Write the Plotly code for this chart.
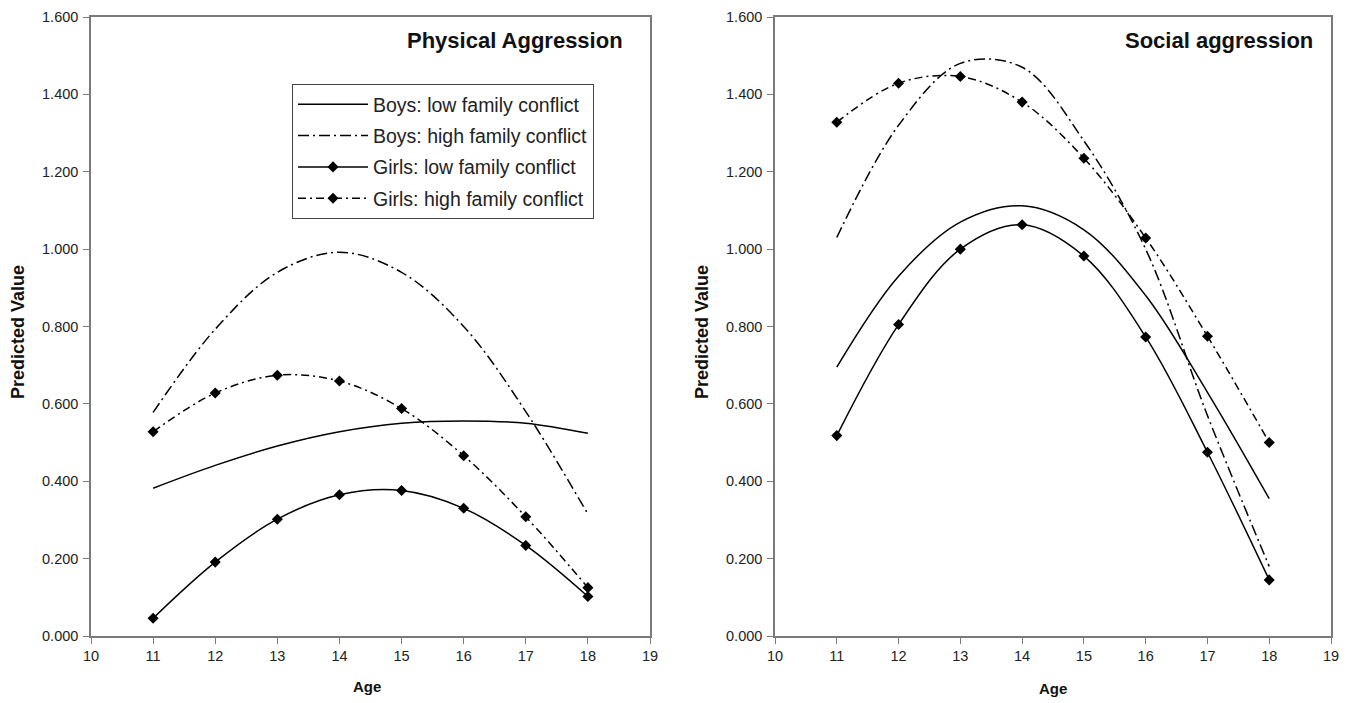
import plotly.graph_objects as go

W, H = 1356, 703

ages = [11, 12, 13, 14, 15, 16, 17, 18]

# Physical aggression
phys_boys_low = [0.382, 0.441, 0.491, 0.528, 0.550, 0.556, 0.550, 0.524]
phys_boys_high = [0.578, 0.793, 0.940, 0.992, 0.940, 0.800, 0.580, 0.315]
phys_girls_low = [0.046, 0.191, 0.302, 0.365, 0.376, 0.330, 0.234, 0.102]
phys_girls_high = [0.528, 0.628, 0.674, 0.659, 0.588, 0.466, 0.308, 0.125]

# Social aggression
soc_boys_low = [0.695, 0.930, 1.070, 1.112, 1.050, 0.880, 0.630, 0.355]
soc_boys_high = [1.030, 1.320, 1.480, 1.470, 1.280, 1.000, 0.570, 0.180]
soc_girls_low = [0.518, 0.805, 1.000, 1.063, 0.982, 0.773, 0.475, 0.145]
soc_girls_high = [1.328, 1.429, 1.446, 1.380, 1.235, 1.029, 0.775, 0.500]

series_names = ["Boys: low family conflict", "Boys: high family conflict",
                "Girls: low family conflict", "Girls: high family conflict"]
panel_titles = ["Physical Aggression", "Social aggression"]
y_ticks = [0.0, 0.2, 0.4, 0.6, 0.8, 1.0, 1.2, 1.4, 1.6]
x_ticks = [10, 11, 12, 13, 14, 15, 16, 17, 18, 19]

FONT = "Liberation Sans, Arial, sans-serif"
styles = [
    dict(dash="solid", marker=False),
    dict(dash="11px,4px,2px,4px", marker=False),
    dict(dash="solid", marker=True),
    dict(dash="8px,4px,2px,4px", marker=True),
]

fig = go.Figure()

panels = [
    ("x", "y", [phys_boys_low, phys_boys_high, phys_girls_low, phys_girls_high], True),
    ("x2", "y2", [soc_boys_low, soc_boys_high, soc_girls_low, soc_girls_high], False),
]
for xa, ya, data, showleg in panels:
    for i, (name, vals, st) in enumerate(zip(series_names, data, styles)):
        fig.add_trace(go.Scatter(
            x=ages, y=vals, name=name, xaxis=xa, yaxis=ya,
            mode="lines+markers" if st["marker"] else "lines",
            line=dict(color="black", width=1.5, dash=st["dash"], shape="spline", smoothing=1.0),
            marker=dict(symbol="diamond", size=8.5, color="black"),
            showlegend=showleg, legendgroup="g%d" % i,
        ))

def px_x(p):
    return p / W

def px_y(p):
    return 1 - p / H

xdom1 = [px_x(91), px_x(650)]
xdom2 = [px_x(775), px_x(1331)]
ydom = [px_y(636), px_y(17)]

axis_common = dict(showline=True, mirror=True, linecolor="#7a7a7a", linewidth=1.5,
                   ticks="outside", ticklen=6, tickcolor="#7a7a7a", tickwidth=1.2,
                   showgrid=False, zeroline=False, automargin=False,
                   tickfont=dict(family=FONT, size=14.5, color="#222"))

fig.update_layout(
    width=W, height=H,
    margin=dict(l=0, r=0, t=0, b=0, autoexpand=False),
    paper_bgcolor="white", plot_bgcolor="white",
    xaxis=dict(domain=xdom1, range=[10, 19], tickvals=x_ticks, anchor="y", **axis_common),
    yaxis=dict(domain=ydom, range=[0, 1.6], tickvals=y_ticks, tickformat=".3f", anchor="x",
               ticklabelstandoff=2, **axis_common),
    xaxis2=dict(domain=xdom2, range=[10, 19], tickvals=x_ticks, anchor="y2", **axis_common),
    yaxis2=dict(domain=ydom, range=[0, 1.6], tickvals=y_ticks, tickformat=".3f", anchor="x2",
                ticklabelstandoff=2, **axis_common),
    legend=dict(x=px_x(292), y=px_y(84), xanchor="left", yanchor="top",
                bgcolor="white", bordercolor="#444", borderwidth=1,
                font=dict(family=FONT, size=19.5, color="#222"),
                tracegroupgap=3, itemwidth=70),
    showlegend=True,
)

annotations = []
for title, right in zip(panel_titles, [625, 1315]):
    annotations.append(dict(text="<b>%s</b>" % title, x=px_x(right), y=px_y(40),
                            xref="paper", yref="paper", xanchor="right", yanchor="middle",
                            showarrow=False, font=dict(family=FONT, size=22, color="#111")))
for cx, cy in [(367, 686), (1053, 688)]:
    annotations.append(dict(text="<b>Age</b>", x=px_x(cx), y=px_y(cy), xref="paper", yref="paper",
                            xanchor="center", yanchor="middle", showarrow=False,
                            font=dict(family=FONT, size=15, color="#111")))
for cx, cy in [(18, 332), (702, 332)]:
    annotations.append(dict(text="<b>Predicted Value</b>", x=px_x(cx), y=px_y(cy), xref="paper", yref="paper",
                            xanchor="center", yanchor="middle", showarrow=False, textangle=-90,
                            font=dict(family=FONT, size=18, color="#111")))
fig.update_layout(annotations=annotations)

fig.write_html("out.html", config={"displayModeBar": False},
               post_script="document.body.style.margin='0';document.body.style.padding='0';")
